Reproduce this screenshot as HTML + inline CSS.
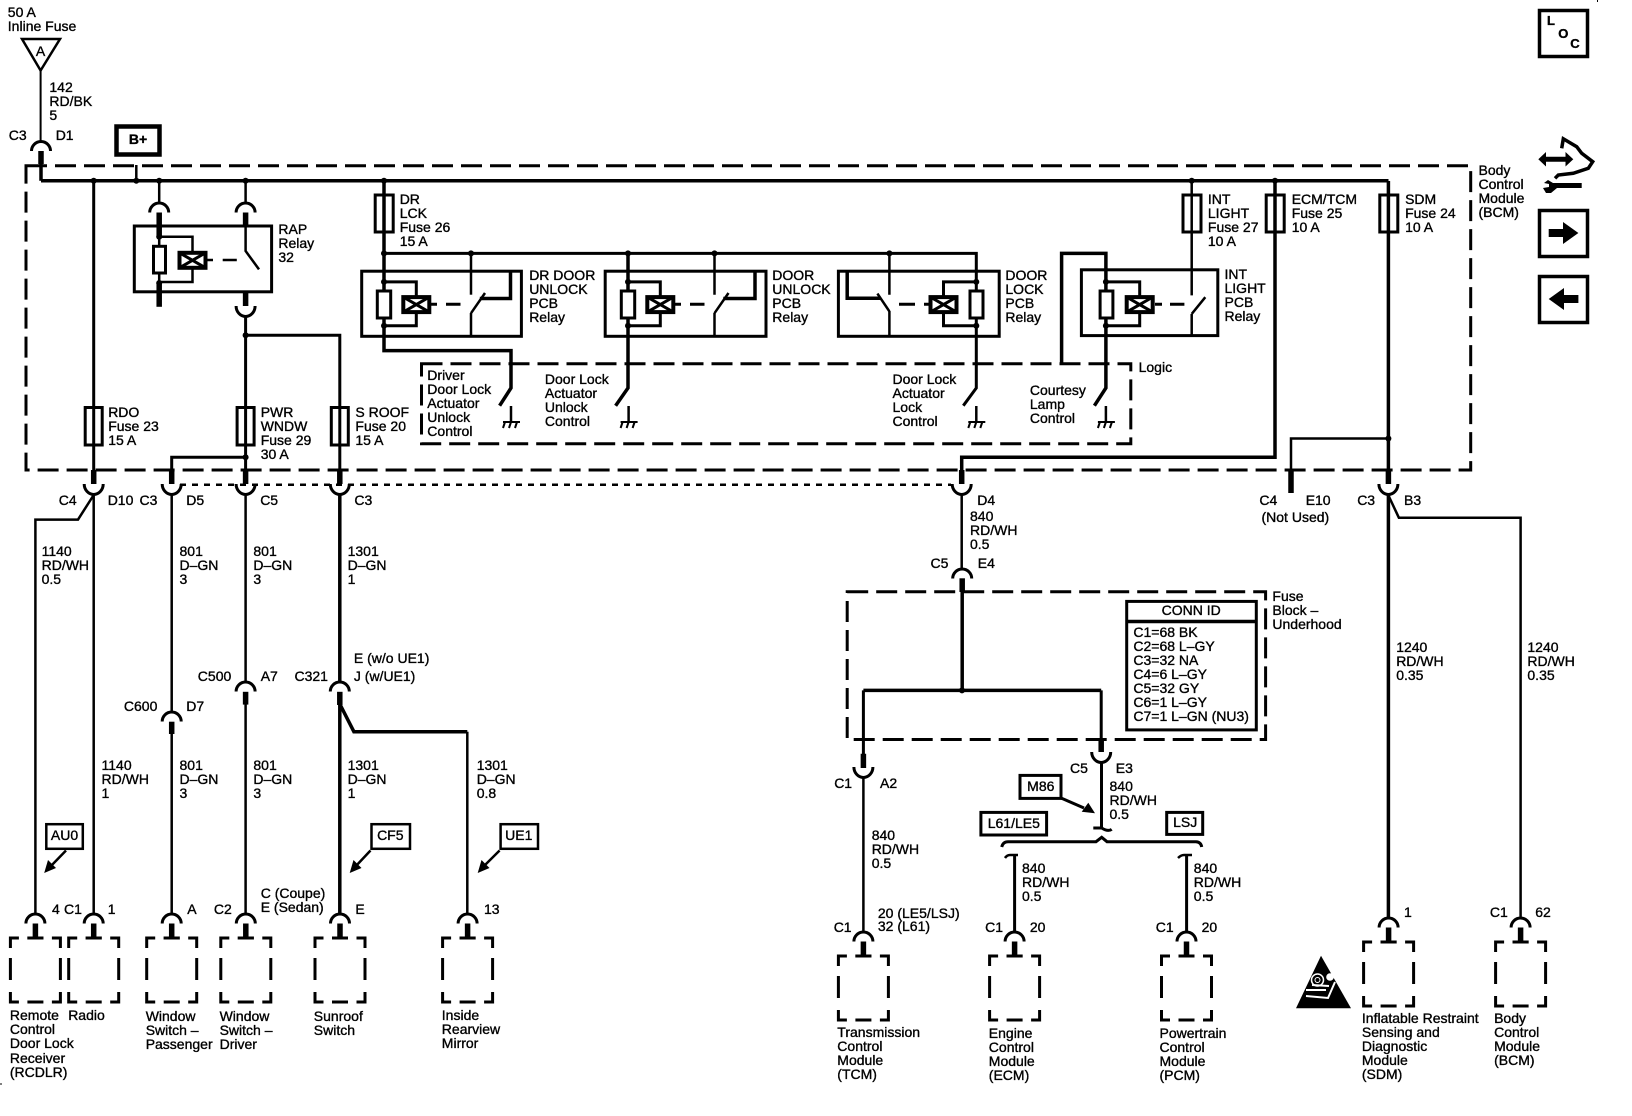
<!DOCTYPE html>
<html><head><meta charset="utf-8"><style>
html,body{margin:0;padding:0;background:#fff}
#p{position:relative;width:1632px;height:1116px;overflow:hidden;background:#fff}
svg{position:absolute;left:0;top:0}
.t{position:absolute;margin-top:-1px;font:14px/14.1px "Liberation Sans",sans-serif;color:#000;white-space:pre;-webkit-text-stroke:.35px #000}
.c{transform:translate(-50%,-50%);line-height:14px}
.n{fill:none;stroke:#000}
</style></head><body><div id="p">
<svg width="1632" height="1116" viewBox="0 0 1632 1116" fill="none" stroke="#000" stroke-width="3">
<defs>
<path id="ua" d="M-9.5,9.5A9.5,9.5 0 0 1 9.5,9.5"/>
<path id="da" d="M-9.5,0A9.5,10.5 0 0 0 9.5,0"/>
<g id="box"><path d="M0,10V0H8.5M17,0H33M41.5,0H50V10M50,20V42M50,54V64H41.5M33,64H17M8.5,64H0V54M0,42V20"/></g>
<g id="bc"><use href="#ua"/><path d="M0,9.5V24" stroke-width="5.5"/><path d="M-8,24H8" stroke-width="3"/><use href="#box" x="-25" y="24"/></g>
<g id="fuse"><rect x="-8.5" y="0" width="17" height="37.5" fill="#fff"/><path d="M0,0V37.5" stroke-width="3"/></g>
<g id="gnd"><path d="M0,0V17" stroke-width="2.5"/><path d="M-8,16H9" stroke-width="2"/><path d="M-6,16L-8,22M0,16L-2,22M6,16L4,22" stroke-width="2"/></g>
<g id="xb"><rect x="-13" y="-7.5" width="26" height="15" fill="#fff" stroke-width="4"/><path d="M-13,-7.5L13,7.5M-13,7.5L13,-7.5" stroke-width="3"/></g>
<path id="stub" d="M0,0V14" stroke-width="5.5"/>
</defs>

<!-- dashed enclosures -->
<rect x="26" y="165.8" width="1444.7" height="304.2" stroke-dasharray="21 8"/>
<rect x="421.5" y="363.7" width="709.3" height="80.1" stroke-dasharray="21 8"/>
<rect x="847.2" y="591.8" width="418.4" height="147.7" stroke-dasharray="21 8"/>
<path d="M180,484.7H951" stroke-dasharray="6 6" stroke-width="2.5"/>

<!-- fuse triangle + feed -->
<path d="M22,39H60L40.6,70.5Z" stroke-width="2.5"/>
<path d="M40.6,70.5V141" stroke-width="2"/>
<use href="#ua" x="41" y="141.5"/>
<path d="M41,151V164" stroke-width="5.5"/>
<path d="M41,164V180.8" stroke-width="3.5"/>
<path d="M41,180.8H1388.5" stroke-width="3.5"/>
<rect x="116.5" y="126.5" width="43" height="28" stroke-width="4.5"/>
<path d="M136.3,165V181" stroke-width="2.5"/>
<g fill="#000" stroke="none">
<circle cx="93.7" cy="180.8" r="3"/><circle cx="136.3" cy="180.8" r="3"/><circle cx="159.2" cy="180.8" r="3"/><circle cx="245.6" cy="180.8" r="3"/><circle cx="384" cy="180.8" r="3"/><circle cx="1191.7" cy="180.8" r="3"/><circle cx="1275" cy="180.8" r="3"/>
<circle cx="245.6" cy="335.3" r="3"/><circle cx="245.6" cy="457.3" r="3"/>
<circle cx="471" cy="253.4" r="3"/><circle cx="384" cy="253.4" r="3"/><circle cx="628" cy="253.4" r="3"/><circle cx="714.5" cy="253.4" r="3"/><circle cx="889.4" cy="253.4" r="3"/>
<circle cx="1388.4" cy="438.5" r="3"/><circle cx="962" cy="690.4" r="3"/>
</g>

<!-- RDO -->
<path d="M93.7,181V470"/>
<use href="#fuse" x="93.7" y="407.5"/>
<use href="#stub" x="93.7" y="470"/><use href="#da" x="93.7" y="484"/>
<path d="M93.7,495L78,519.6H35.4V914" stroke-width="2.5"/>
<path d="M93.7,495V914" stroke-width="2.5"/>

<!-- RAP relay -->
<path d="M159.2,181V203M245.6,181V203" stroke-width="2.5"/>
<use href="#ua" x="159.2" y="203"/><use href="#ua" x="245.6" y="203"/>
<path d="M159.2,212.5V237M245.6,212.5V226" stroke-width="5.5"/>
<rect x="134.3" y="226" width="137.3" height="65.8"/>
<path d="M159.2,236.7H192.5V253M159.2,237V246M159.2,273V283M192.5,268V282H159.2" stroke-width="2.5"/>
<rect x="153.5" y="246.3" width="12" height="26.7"/>
<path d="M159.2,283V306.8" stroke-width="5.5"/>
<use href="#xb" x="192.5" y="260.3"/>
<path d="M205.6,260H213M222.7,260H236.8" stroke-width="2.5"/>
<path d="M245.6,226V251L259,269.4" stroke-width="2.5"/>
<g fill="#000" stroke="none"><circle cx="159.2" cy="236.7" r="3"/><circle cx="159.2" cy="283" r="3"/></g>
<path d="M245.6,291.8V306" stroke-width="5.5"/>
<use href="#da" x="245.6" y="306"/>
<path d="M245.6,316V470M245.6,335.3H339.8V470" stroke-width="3"/>
<use href="#fuse" x="245.6" y="407.5"/><use href="#fuse" x="339.8" y="407.5"/>
<path d="M245.6,457.3H171.7V472" stroke-width="3"/>
<use href="#stub" x="245.6" y="470"/><use href="#stub" x="339.8" y="470"/><use href="#stub" x="171.7" y="470"/>
<use href="#da" x="171.7" y="484"/><use href="#da" x="245.6" y="484"/><use href="#da" x="339.8" y="484"/>
<path d="M171.7,495V712M245.6,495V682" stroke-width="2.5"/>
<path d="M339.8,495V682" stroke-width="3.5"/>

<!-- inline connectors lower left -->
<use href="#ua" x="171.7" y="712"/><path d="M171.7,721.7V734" stroke-width="5.5"/>
<use href="#ua" x="245.6" y="682"/><path d="M245.6,691.8V704.6" stroke-width="5.5"/>
<use href="#ua" x="339.8" y="682"/><path d="M339.8,691.8V705" stroke-width="5.5"/>
<path d="M171.7,734V914M245.6,704V914" stroke-width="2.5"/>
<path d="M339.8,705V914" stroke-width="3.5"/>
<path d="M339.8,704L353.9,731.7H467.3" stroke-width="3.5"/><path d="M467.3,731.7V914" stroke-width="2.5"/>

<use href="#bc" x="35.4" y="914"/><use href="#bc" x="93.7" y="914"/><use href="#bc" x="171.7" y="914"/><use href="#bc" x="245.8" y="914"/><use href="#bc" x="340" y="914"/><use href="#bc" x="467.6" y="914"/>

<!-- option boxes & arrows -->
<rect x="46.3" y="824.2" width="36.5" height="24.6" stroke-width="2.5"/>
<rect x="371.5" y="824.2" width="38.5" height="24.6" stroke-width="2.5"/>
<rect x="500.6" y="824.2" width="37.4" height="24.6" stroke-width="2.5"/>
<path d="M66,850.5L50,867M370.5,850.5L355,867M499.6,850.5L483,867" stroke-width="2.5"/>
<g fill="#000" stroke="none"><path d="M44.2,873L48,860L56,868Z"/><path d="M349.7,873L353.5,860L361.5,868Z"/><path d="M477.7,873L481.5,860L489.5,868Z"/></g>

<!-- DR LCK + relays -->
<path d="M384,181V350.6H511V388L499.6,405.7" stroke-width="3.5"/>
<rect x="375.2" y="195" width="18" height="37" fill="#fff"/>
<path d="M384,253.4H976.3V388L963.3,405.7" stroke-width="3"/>
<g id="r1">
<rect x="361.7" y="271.2" width="159.7" height="65.1"/>
<rect x="377.3" y="291" width="13.4" height="27" fill="#fff"/>
<path d="M384,281.9H416.3V298M416.3,312V325.7H384" stroke-width="3"/>
<use href="#xb" x="416.3" y="304.6"/>
<path d="M431,304.3H437M446,304.3H460.5" stroke-width="3"/>
<path d="M471,253.4V294.7" stroke-width="2.5"/>
<path d="M471,313.2L485,293M471,313V336" stroke-width="2.5"/>
<path d="M479.8,298.5H510.5V272" stroke-width="3.5"/>
<g fill="#000" stroke="none"><circle cx="384" cy="281.9" r="3"/><circle cx="384" cy="325.7" r="3"/></g>
</g>
<use href="#gnd" x="511" y="406"/>
<!-- door unlock -->
<rect x="605.2" y="271.2" width="160.8" height="65.1"/>
<path d="M628,253.4V388L615.6,405.7" stroke-width="3.5"/>
<rect x="621.3" y="291" width="13.4" height="27" fill="#fff"/>
<path d="M628,281.9H660.3V298M660.3,312V325.7H628" stroke-width="3"/>
<use href="#xb" x="660.3" y="304.6"/>
<path d="M675,304.3H681M690,304.3H704.5" stroke-width="3"/>
<path d="M714.5,253.4V294.7M714.5,313.2L728.5,293M714.5,313V336" stroke-width="2.5"/>
<path d="M723.3,298.5H755V272" stroke-width="3.5"/>
<g fill="#000" stroke="none"><circle cx="628" cy="281.9" r="3"/><circle cx="628" cy="325.7" r="3"/></g>
<use href="#gnd" x="628.6" y="406"/>
<!-- door lock -->
<rect x="838.4" y="271.2" width="160.8" height="65.1"/>
<rect x="970" y="291" width="13" height="27" fill="#fff"/>
<path d="M976.3,281.9H943.5V298M943.5,312V325.7H976.3" stroke-width="3"/>
<use href="#xb" x="943.5" y="304.6"/>
<path d="M899,304.3H915M924,304.3H929" stroke-width="3"/>
<path d="M889.4,253.4V294.7M889.4,311.4L877.4,293.6M889.4,311V336" stroke-width="2.5"/>
<path d="M847.2,272V298.2H881" stroke-width="3.5"/>
<g fill="#000" stroke="none"><circle cx="976.3" cy="281.9" r="3"/><circle cx="976.3" cy="325.7" r="3"/></g>
<use href="#gnd" x="976.3" y="406"/>
<!-- int light -->
<path d="M1061.6,363.7V253.4H1105.9V388L1094.4,405.7" stroke-width="3.5"/>
<rect x="1081.4" y="269.8" width="136.4" height="65.8"/>
<rect x="1100.1" y="291" width="12.8" height="27" fill="#fff"/>
<path d="M1105.9,281.9H1139.7V298M1139.7,312V325.7H1105.9" stroke-width="3"/>
<use href="#xb" x="1139.7" y="304.6"/>
<path d="M1155,304.3H1162M1170,304.3H1184.4" stroke-width="3"/>
<path d="M1191.7,181V295.4M1191.7,313.9L1205.3,297.2M1191.7,314V335.6" stroke-width="2.5"/>
<rect x="1183" y="195" width="18" height="37" fill="#fff"/><path d="M1191.7,195V232" stroke-width="2.5"/>
<g fill="#000" stroke="none"><circle cx="1105.9" cy="281.9" r="3"/><circle cx="1105.9" cy="325.7" r="3"/></g>
<use href="#gnd" x="1105.9" y="406"/>
<path d="M384,195V232" stroke-width="3.5"/>

<!-- ECM/TCM -->
<path d="M1275,181V457.3H961.7V470" stroke-width="3.5"/>
<rect x="1266.2" y="195" width="18" height="37" fill="#fff"/><path d="M1275,195V232" stroke-width="3.5"/>
<use href="#stub" x="961.7" y="470"/><use href="#da" x="961.7" y="484"/>
<path d="M961.7,495V569" stroke-width="2.5"/>
<use href="#ua" x="962.2" y="569"/>
<path d="M962.2,578.3V592" stroke-width="5.5"/>
<path d="M962.2,592V690.4" stroke-width="3.5"/>
<path d="M863.4,690.4H1101.2" stroke-width="3.5"/>
<path d="M863.4,690.4V754M1101.2,690.4V740" stroke-width="3"/>
<path d="M863.4,753.7V768M1101.2,739.5V752" stroke-width="5.5"/>
<use href="#da" x="863.4" y="767"/><use href="#da" x="1101.2" y="752"/>
<path d="M863.4,777V932.4" stroke-width="2.5"/>
<path d="M1101.5,762.6V828" stroke-width="3"/>
<path d="M1093.3,828H1101.7Q1108,832 1111.7,829.3" stroke-width="3"/>
<path d="M1001.7,847Q1003,841.7 1008,841.7H1096L1101.7,837.3L1107,841.7H1196Q1201,842 1201.7,847" stroke-width="3"/>
<path d="M1005,858Q1007,855 1010,855H1018M1178,858Q1181,855 1184,855H1192" stroke-width="2.5"/>
<path d="M1014.6,855V932.4M1186.6,855V932.4" stroke-width="3"/>

<use href="#bc" x="863.4" y="932"/><use href="#bc" x="1014.6" y="932"/><use href="#bc" x="1186.5" y="932"/>
<use href="#bc" x="1388.6" y="918"/><use href="#bc" x="1520.6" y="918"/>

<!-- CONN ID -->
<rect x="1126.7" y="601.4" width="129.6" height="128.5"/>
<path d="M1126.7,621.5H1256.3" stroke-width="3.5"/>
<rect x="1020" y="775.4" width="41" height="23" stroke-width="3"/>
<path d="M1061.6,798.3L1084,808" stroke-width="3"/><path d="M1095,813.3L1081.7,811.7L1088.3,802.7Z" fill="#000" stroke="none"/>
<rect x="980.9" y="812.4" width="65.7" height="22.6" stroke-width="3"/>
<rect x="1166.7" y="812.4" width="36" height="22" stroke-width="3"/>

<!-- SDM -->
<path d="M1388.4,181V470" stroke-width="3.5"/>
<rect x="1379.8" y="195" width="18" height="37" fill="#fff"/><path d="M1388.4,195V232" stroke-width="3.5"/>
<path d="M1388.4,438.5H1291V470" stroke-width="2.5"/>
<path d="M1291,470V493" stroke-width="5.5"/>
<use href="#stub" x="1388.4" y="470"/><use href="#da" x="1388.4" y="484"/>
<path d="M1388.4,495V918" stroke-width="3.5"/>
<path d="M1388.4,495.4L1398.9,517.8H1520.6V918" stroke-width="2.5"/>

<!-- right icons -->
<rect x="1539.5" y="10.5" width="48" height="46" stroke-width="3.5"/>
<rect x="1539.5" y="210.5" width="48" height="46" stroke-width="3.5"/>
<rect x="1539.5" y="276.5" width="48" height="46" stroke-width="3.5"/>
<path d="M1548.7,229H1563V222L1578.4,233L1563,244V237H1548.7Z" fill="#000" stroke="none"/>
<path d="M1578.4,295H1564V288L1548.7,299L1564,310V303H1578.4Z" fill="#000" stroke="none"/>
<path d="M1545,159.3H1567" stroke-width="5"/><path d="M1538.3,159.3L1546,152V166.5ZM1573.3,159.3L1565.5,152V166.5Z" fill="#000" stroke="none"/>
<path d="M1561.7,148.3L1563.3,138.8L1576.7,146.7L1581.7,153.3L1592.7,161.7L1588.3,168.3L1573.3,173.3L1558.3,175L1555,178.3" stroke-width="3.5"/>
<path d="M1553,183H1581.7V188H1557L1551,193H1546L1543,188L1549,187L1549,184L1544,183L1548,180Z" fill="#000" stroke="none"/>
<!-- airbag triangle -->
<path d="M1321,955.7L1296,1008.3H1351Z" fill="#000" stroke="none"/>
<circle cx="1330" cy="977" r="3.8" fill="#fff" stroke="none"/>
<circle cx="1317.5" cy="980" r="6" stroke="#fff" stroke-width="1.5"/><circle cx="1317.5" cy="980" r="2.5" stroke="#fff" stroke-width="1"/>
<path d="M1335,982L1328,998L1306,996M1306,990H1326M1312,985L1329,986" stroke="#fff" stroke-width="2"/>
<path d="M1597.5,0V2M0,1084H2" stroke-width="1"/>
</svg>

<div class="t" style="left:7.8px;top:6px">50 A
Inline Fuse</div>
<div class="t c" style="left:40.6px;top:51.6px">A</div>
<div class="t" style="left:49.4px;top:81.2px">142
RD/BK
5</div>
<div class="t" style="left:8.8px;top:129.2px">C3</div>
<div class="t" style="left:55.7px;top:129.2px">D1</div>
<div class="t c" style="left:138px;top:140px;font-weight:bold">B+</div>
<div class="t" style="left:399.7px;top:193px">DR
LCK
Fuse 26
15 A</div>
<div class="t" style="left:278.4px;top:223px">RAP
Relay
32</div>
<div class="t" style="left:529.2px;top:268.7px">DR DOOR
UNLOCK
PCB
Relay</div>
<div class="t" style="left:772.3px;top:268.7px">DOOR
UNLOCK
PCB
Relay</div>
<div class="t" style="left:427.3px;top:369px">Driver
Door Lock
Actuator
Unlock
Control</div>
<div class="t" style="left:544.9px;top:373px">Door Lock
Actuator
Unlock
Control</div>
<div class="t" style="left:108.2px;top:405.7px">RDO
Fuse 23
15 A</div>
<div class="t" style="left:260.7px;top:405.7px">PWR
WNDW
Fuse 29
30 A</div>
<div class="t" style="left:355.4px;top:405.7px">S ROOF
Fuse 20
15 A</div>
<div class="t" style="left:58.8px;top:493.6px">C4</div>
<div class="t" style="left:107.7px;top:493.6px">D10</div>
<div class="t" style="left:139.5px;top:493.6px">C3</div>
<div class="t" style="left:186.3px;top:493.6px">D5</div>
<div class="t" style="left:260.2px;top:493.6px">C5</div>
<div class="t" style="left:354.4px;top:493.6px">C3</div>
<div class="t" style="left:41.6px;top:545.3px">1140
RD/WH
0.5</div>
<div class="t" style="left:179.5px;top:545.3px">801
D–GN
3</div>
<div class="t" style="left:253.4px;top:545.3px">801
D–GN
3</div>
<div class="t" style="left:347.6px;top:545.3px">1301
D–GN
1</div>
<div class="t" style="left:1005.4px;top:268.7px">DOOR
LOCK
PCB
Relay</div>
<div class="t" style="left:1224.5px;top:267.7px">INT
LIGHT
PCB
Relay</div>
<div class="t" style="left:1207.9px;top:193px">INT
LIGHT
Fuse 27
10 A</div>
<div class="t" style="left:1291.7px;top:193px">ECM/TCM
Fuse 25
10 A</div>
<div class="t" style="left:1405.1px;top:193px">SDM
Fuse 24
10 A</div>
<div class="t" style="left:1478.5px;top:163.7px">Body
Control
Module
(BCM)</div>
<div class="t" style="left:1138.6px;top:361.3px">Logic</div>
<div class="t" style="left:892.5px;top:373px">Door Lock
Actuator
Lock
Control</div>
<div class="t" style="left:1029.9px;top:383.7px">Courtesy
Lamp
Control</div>
<div class="t" style="left:977.3px;top:493.6px">D4</div>
<div class="t" style="left:970px;top:510px">840
RD/WH
0.5</div>
<div class="t" style="left:1259.4px;top:493.6px">C4</div>
<div class="t" style="left:1305.7px;top:493.6px">E10</div>
<div class="t" style="left:1357.2px;top:493.6px">C3</div>
<div class="t" style="left:1404px;top:493.6px">B3</div>
<div class="t" style="left:1261.5px;top:510.7px">(Not Used)</div>
<div class="t c" style="left:1551px;top:22px;font-weight:bold;font-size:13px">L</div>
<div class="t c" style="left:1563.3px;top:34.5px;font-weight:bold;font-size:13px">O</div>
<div class="t c" style="left:1575px;top:44.5px;font-weight:bold;font-size:13px">C</div>

<div class="t" style="left:353.9px;top:652.3px">E (w/o UE1)</div>
<div class="t" style="left:353.9px;top:670px">J (w/UE1)</div>
<div class="t" style="left:197.8px;top:670px">C500</div>
<div class="t" style="left:260.7px;top:670px">A7</div>
<div class="t" style="left:294.5px;top:670px">C321</div>
<div class="t" style="left:123.9px;top:699.6px">C600</div>
<div class="t" style="left:186.3px;top:699.6px">D7</div>
<div class="t" style="left:101.5px;top:759.1px">1140
RD/WH
1</div>
<div class="t" style="left:179.5px;top:759.1px">801
D–GN
3</div>
<div class="t" style="left:253.4px;top:759.1px">801
D–GN
3</div>
<div class="t" style="left:347.6px;top:759.1px">1301
D–GN
1</div>
<div class="t" style="left:476.7px;top:759.1px">1301
D–GN
0.8</div>
<div class="t c" style="left:64.5px;top:835.6px">AU0</div>
<div class="t c" style="left:390.3px;top:835.6px">CF5</div>
<div class="t c" style="left:518.8px;top:835.6px">UE1</div>
<div class="t" style="left:52px;top:903.3px">4</div>
<div class="t" style="left:64px;top:903.3px">C1</div>
<div class="t" style="left:107.7px;top:903.3px">1</div>
<div class="t" style="left:187.3px;top:903.3px">A</div>
<div class="t" style="left:213.9px;top:903.3px">C2</div>
<div class="t" style="left:260.7px;top:887.3px">C (Coupe)
E (Sedan)</div>
<div class="t" style="left:355.4px;top:903.3px">E</div>
<div class="t" style="left:484px;top:903.3px">13</div>
<div class="t" style="left:9.9px;top:1009.3px">Remote
Control
Door Lock
Receiver
(RCDLR)</div>
<div class="t" style="left:68.2px;top:1009.3px">Radio</div>
<div class="t" style="left:145.7px;top:1009.8px">Window
Switch –
Passenger</div>
<div class="t" style="left:219.6px;top:1009.8px">Window
Switch –
Driver</div>
<div class="t" style="left:313.8px;top:1009.8px">Sunroof
Switch</div>
<div class="t" style="left:441.8px;top:1009.3px">Inside
Rearview
Mirror</div>

<div class="t" style="left:930.5px;top:557px">C5</div>
<div class="t" style="left:977.8px;top:557px">E4</div>
<div class="t" style="left:1272.4px;top:590px">Fuse
Block –
Underhood</div>
<div class="t c" style="left:1191.2px;top:610.7px">CONN ID</div>
<div class="t" style="left:1133.4px;top:625.7px">C1=68 BK
C2=68 L–GY
C3=32 NA
C4=6 L–GY
C5=32 GY
C6=1 L–GY
C7=1 L–GN (NU3)</div>
<div class="t" style="left:1070px;top:762px">C5</div>
<div class="t" style="left:1115.8px;top:762px">E3</div>
<div class="t" style="left:834.2px;top:777px">C1</div>
<div class="t" style="left:880px;top:777px">A2</div>
<div class="t" style="left:871.7px;top:828.5px">840
RD/WH
0.5</div>
<div class="t" style="left:1109.5px;top:779.8px">840
RD/WH
0.5</div>
<div class="t c" style="left:1040.8px;top:786.5px">M86</div>
<div class="t c" style="left:1013.8px;top:823.8px">L61/LE5</div>
<div class="t c" style="left:1185.2px;top:823.3px">LSJ</div>
<div class="t" style="left:1022px;top:862.3px">840
RD/WH
0.5</div>
<div class="t" style="left:1193.8px;top:862.3px">840
RD/WH
0.5</div>
<div class="t" style="left:877.9px;top:907.6px;line-height:13px">20 (LE5/LSJ)
32 (L61)</div>
<div class="t" style="left:833.7px;top:921px">C1</div>
<div class="t" style="left:985.1px;top:921px">C1</div>
<div class="t" style="left:1029.9px;top:921px">20</div>
<div class="t" style="left:1155.8px;top:921px">C1</div>
<div class="t" style="left:1201.6px;top:921px">20</div>
<div class="t" style="left:1404px;top:905.8px">1</div>
<div class="t" style="left:1489.9px;top:905.8px">C1</div>
<div class="t" style="left:1535.2px;top:905.8px">62</div>
<div class="t" style="left:1396.2px;top:641px">1240
RD/WH
0.35</div>
<div class="t" style="left:1527.4px;top:641px">1240
RD/WH
0.35</div>
<div class="t" style="left:837.3px;top:1026px">Transmission
Control
Module
(TCM)</div>
<div class="t" style="left:988.8px;top:1026.8px">Engine
Control
Module
(ECM)</div>
<div class="t" style="left:1159.5px;top:1027px">Powertrain
Control
Module
(PCM)</div>
<div class="t" style="left:1361.9px;top:1011.8px">Inflatable Restraint
Sensing and
Diagnostic
Module
(SDM)</div>
<div class="t" style="left:1494.1px;top:1011.8px">Body
Control
Module
(BCM)</div>
</div></body></html>
